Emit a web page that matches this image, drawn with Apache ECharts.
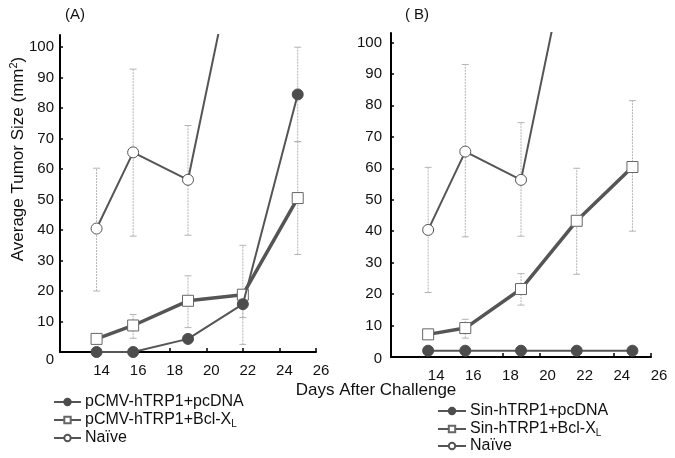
<!DOCTYPE html>
<html><head><meta charset="utf-8">
<script src="https://cdn.jsdelivr.net/npm/echarts@6/dist/echarts.min.js"></script>
<style>html,body{margin:0;padding:0;background:#fff}#c{width:675px;height:458px}</style>
</head><body><div id="c"></div>
<script>
// ---- data ----
const days = [14, 16, 19, 22, 25];
const xTicks = [14, 16, 18, 20, 22, 24, 26];
const yTicks = [0, 10, 20, 30, 40, 50, 60, 70, 80, 90, 100];

const pcdnaA = [0, 0, 4.3, 15.7, 84.5];
const bclA = [4.3, 8.7, 16.8, 18.8, 50.5];
const naiveA = [40.5, 65.5, 56.5, 143];
// [day, low, high]
const naiveErrA = [[14, 20, 60.3], [16, 38, 92.8], [19, 38.3, 74.3]];
const bclErrA = [[16, 4.5, 12.3], [19, 8, 25], [22, 2.5, 35], [25, 32, 69]];
const pcdnaErrA = [[22, 11.3, 20], [25, 69, 100]];

const pcdnaB = [2, 2, 2, 2, 2];
const bclB = [7.2, 9.2, 21.6, 43.3, 60.4];
const naiveB = [40.4, 65.3, 56.3, 142];
const naiveErrB = [[14, 20.5, 60.3], [16, 38.2, 93], [19, 38.4, 74.5]];
const bclErrB = [[16, 6, 12], [19, 16.5, 26.5], [22, 26.3, 60], [25, 40, 81.5]];

const namesA = ['pCMV-hTRP1+pcDNA', 'pCMV-hTRP1+Bcl-XL', 'Naïve'];
const namesB = ['Sin-hTRP1+pcDNA', 'Sin-hTRP1+Bcl-XL', 'Naïve '];

// ---- build ----
const FONT = '"Liberation Sans", Arial, sans-serif';
const LINE = '#555';
const pairs = (xs, ys) => ys.map((v, i) => [xs[i], v]);

function errRender(params, api) {
  const x = api.value(0), lo = api.value(1), hi = api.value(2);
  const a = api.coord([x, lo]), b = api.coord([x, hi]);
  const w = 3.5;
  const st = {stroke: '#b4b4b4', lineWidth: 1};
  return {type: 'group', children: [
    {type: 'line', shape: {x1: a[0], y1: a[1], x2: b[0], y2: b[1]}, style: {stroke: '#b4b4b4', lineWidth: 1, lineDash: [2, 1]}},
    {type: 'line', shape: {x1: b[0] - w, y1: b[1], x2: b[0] + w, y2: b[1]}, style: st},
    {type: 'line', shape: {x1: a[0] - w, y1: a[1], x2: a[0] + w, y2: a[1]}, style: st}
  ]};
}
function errSeries(data, idx) {
  return {type: 'custom', xAxisIndex: idx, yAxisIndex: idx, renderItem: errRender, data: data,
    encode: {x: 0, y: [1, 2]}, clip: true, z: 1, silent: true};
}
function mkX(idx, pad) {
  return {gridIndex: idx, type: 'value', min: 12, max: 26, interval: 2,
    axisLine: {lineStyle: {color: '#000', width: 2}},
    axisTick: {inside: true, length: 4, customValues: xTicks, lineStyle: {color: '#000', width: 1.5}},
    axisLabel: {customValues: xTicks, margin: 11, fontSize: 15, color: '#111', fontFamily: FONT, padding: [0, 0, 0, pad]},
    splitLine: {show: false}};
}
function mkY(idx, max, margin, zeroPad) {
  return {gridIndex: idx, type: 'value', min: 0, max: max,
    axisLine: {show: true, lineStyle: {color: '#000', width: 2}},
    axisTick: {show: true, inside: true, length: 3, customValues: yTicks, lineStyle: {color: '#000', width: 1.5}},
    axisLabel: {customValues: yTicks, margin: margin, fontSize: 15, color: '#111', fontFamily: FONT,
      formatter: v => v === 0 ? '{z|0}' : String(v),
      rich: {z: {fontSize: 15, color: '#111', fontFamily: FONT, padding: [zeroPad, 0, 0, 0]}}},
    splitLine: {show: false}};
}
function lineSeries(name, xs, ys, idx, kind) {
  const s = {name: name, type: 'line', xAxisIndex: idx, yAxisIndex: idx, data: pairs(xs, ys),
    clip: true, z: 3, animation: false, symbolSize: 11};
  if (kind === 'pc') {
    s.symbol = 'circle';
    s.lineStyle = {color: LINE, width: 2};
    s.itemStyle = {color: '#4d4d4d', borderColor: '#4d4d4d', borderWidth: 1};
    s.z = 4;
  } else if (kind === 'bcl') {
    s.symbol = 'rect';
    s.lineStyle = {color: LINE, width: 3.5};
    s.itemStyle = {color: '#fff', borderColor: '#666', borderWidth: 1};
  } else {
    s.symbol = 'circle';
    s.lineStyle = {color: LINE, width: 2};
    s.itemStyle = {color: '#fff', borderColor: '#555', borderWidth: 1};
  }
  return s;
}
const legendFmt = n => n.endsWith('-XL') ? n.slice(0, -1) + '{s|L}' : n.trim();
function mkLegend(name, left, top, w) {
  return {data: [name], orient: 'vertical', left: left, top: top, padding: 0, itemWidth: w, itemHeight: 8,
    selectedMode: false, formatter: legendFmt,
    textStyle: {fontSize: 16, color: '#111', fontFamily: FONT, padding: [0, 0, 0, -1], lineHeight: 16,
      rich: {s: {fontSize: 10, color: '#111', fontFamily: FONT, padding: [9, 0, 0, 0]}}}};
}
const legTopsA = [394, 412, 430];
const legTopsB = [403, 421, 438];

const option = {
  animation: false,
  backgroundColor: '#fff',
  grid: [
    {left: 60, top: 35, width: 256, height: 317},
    {left: 391, top: 33, width: 260, height: 324}
  ],
  xAxis: [mkX(0, 10), mkX(1, 16)],
  yAxis: [mkY(0, 104, 6, 16), mkY(1, 103, 9, 4)],
  legend: namesA.map((n, i) => mkLegend(n, 53, legTopsA[i], 27))
    .concat(namesB.map((n, i) => mkLegend(n, 437, legTopsB[i], 28))),
  graphic: [
    {type: 'text', x: 75, y: 15, style: {text: '(A)', fill: '#111', font: '15px ' + FONT, align: 'center', verticalAlign: 'middle'}},
    {type: 'text', x: 417, y: 15, style: {text: '( B)', fill: '#111', font: '15px ' + FONT, align: 'center', verticalAlign: 'middle'}},
    {type: 'text', x: 376, y: 390, style: {text: 'Days After Challenge', fill: '#111', font: '17px ' + FONT, align: 'center', verticalAlign: 'middle'}},
    {type: 'text', x: 18, y: 159, rotation: Math.PI / 2,
      style: {text: 'Average Tumor Size (mm{sup|2})', fill: '#111', font: '17px ' + FONT, align: 'center', verticalAlign: 'middle',
        rich: {sup: {fontSize: 11, fill: '#111', fontFamily: FONT, padding: [0, 0, 8, 0]}}}}
  ],
  series: [
    errSeries(naiveErrA, 0), errSeries(bclErrA, 0), errSeries(pcdnaErrA, 0),
    errSeries(naiveErrB, 1), errSeries(bclErrB, 1),
    lineSeries(namesA[0], days, pcdnaA, 0, 'pc'),
    lineSeries(namesA[1], days, bclA, 0, 'bcl'),
    lineSeries(namesA[2], days, naiveA, 0, 'naive'),
    lineSeries(namesB[0], days, pcdnaB, 1, 'pc'),
    lineSeries(namesB[1], days, bclB, 1, 'bcl'),
    lineSeries(namesB[2], days, naiveB, 1, 'naive')
  ]
};
const chart = echarts.init(document.getElementById('c'), null, {renderer: 'canvas'});
chart.setOption(option);
</script>
</body></html>
